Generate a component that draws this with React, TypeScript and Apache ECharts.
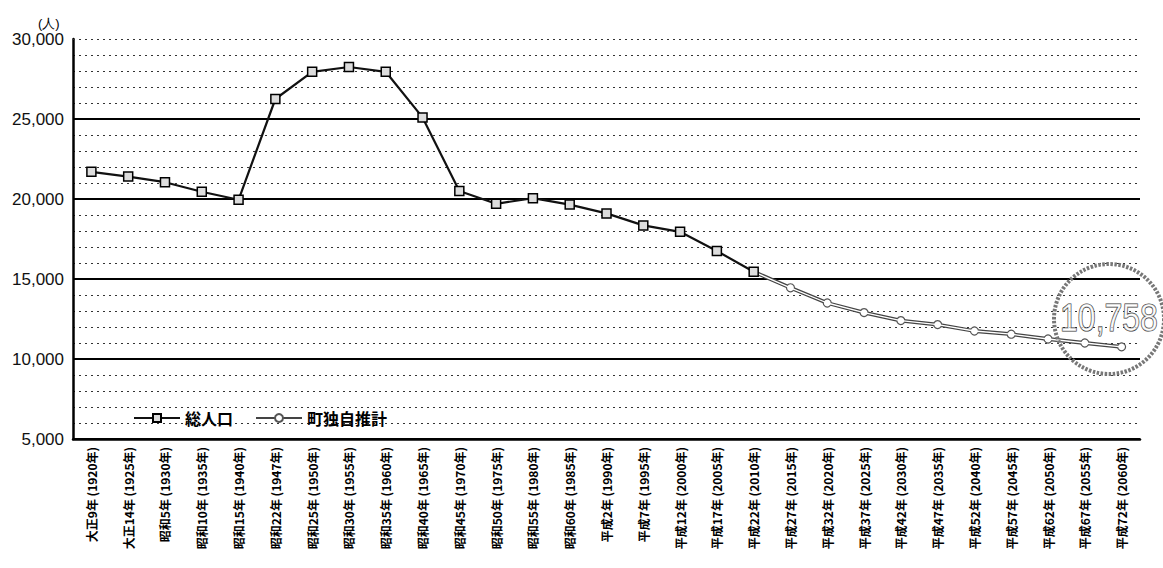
import React, { useEffect, useRef } from "react";
import * as echarts from "echarts";

const categories = [
  "大正9年 (1920年)", "大正14年 (1925年)", "昭和5年 (1930年)", "昭和10年 (1935年)",
  "昭和15年 (1940年)", "昭和22年 (1947年)", "昭和25年 (1950年)", "昭和30年 (1955年)",
  "昭和35年 (1960年)", "昭和40年 (1965年)", "昭和45年 (1970年)", "昭和50年 (1975年)",
  "昭和55年 (1980年)", "昭和60年 (1985年)", "平成2年 (1990年)", "平成7年 (1995年)",
  "平成12年 (2000年)", "平成17年 (2005年)", "平成22年 (2010年)", "平成27年 (2015年)",
  "平成32年 (2020年)", "平成37年 (2025年)", "平成42年 (2030年)", "平成47年 (2035年)",
  "平成52年 (2040年)", "平成57年 (2045年)", "平成62年 (2050年)", "平成67年 (2055年)",
  "平成72年 (2060年)",
];

const totalPopulation = [
  21700, 21400, 21050, 20450, 19950, 26250, 27950, 28250, 27950, 25100,
  20500, 19700, 20050, 19650, 19100, 18350, 17950, 16750, 15450,
  null, null, null, null, null, null, null, null, null, null,
];

const townEstimate = [
  null, null, null, null, null, null, null, null, null, null,
  null, null, null, null, null, null, null, null,
  15450, 14450, 13500, 12900, 12400, 12150, 11750, 11550, 11250, 11000, 10758,
];

const yTicks = { min: 5000, max: 30000, interval: 5000 };
const stampValue = "10,758";
const unitLabel = "(人)";

export default function App() {
  const ref = useRef<HTMLDivElement>(null);
  useEffect(() => {
    if (!ref.current) return;
    const chart = echarts.init(ref.current, null, { renderer: "svg" });
    const dotted = { color: "#333", width: 1.1, type: [2, 4] as any };
    chart.setOption({
      animation: false,
      backgroundColor: "#fff",
      grid: { left: 73, right: 23, top: 39, bottom: 129, containLabel: false },
      legend: {
        data: ["総人口", "町独自推計"],
        left: 128,
        top: 405,
        itemWidth: 46,
        itemHeight: 10,
        itemGap: 22,
        textStyle: { fontSize: 16, fontWeight: "bold", color: "#000", fontFamily: "Noto Sans CJK JP" },
      },
      xAxis: {
        type: "category",
        data: categories,
        boundaryGap: true,
        axisTick: { show: false },
        axisLine: { lineStyle: { color: "#000", width: 2.5 } },
        axisLabel: {
          interval: 0,
          rotate: 90,
          margin: 8,
          fontSize: 12,
          fontWeight: "bold",
          color: "#000",
          fontFamily: "Noto Sans CJK JP",
        },
        splitLine: { show: false },
      },
      yAxis: {
        type: "value",
        min: yTicks.min,
        max: yTicks.max,
        interval: yTicks.interval,
        axisLine: { show: true, lineStyle: { color: "#000", width: 2.5 } },
        axisTick: { show: false },
        axisLabel: {
          fontSize: 17,
          color: "#111",
          margin: 9,
          fontFamily: "Liberation Sans",
          formatter: (v: number) => v.toLocaleString("en-US"),
        },
        splitLine: { show: true, showMaxLine: false, lineStyle: { color: "#000", width: 1.8 } },
        minorTick: { show: false, splitNumber: 5 },
        minorSplitLine: { show: true, lineStyle: dotted },
      },
      series: [
        {
          name: "町独自推計",
          type: "line",
          data: townEstimate,
          z: 2,
          symbol: "circle",
          symbolSize: 8,
          showSymbol: true,
          lineStyle: { color: "#444", width: 3.8 },
          itemStyle: { color: "#fff", borderColor: "#555", borderWidth: 1.2 },
        },
        {
          name: "町独自推計_inner",
          type: "line",
          data: townEstimate,
          z: 3,
          symbol: "none",
          silent: true,
          lineStyle: { color: "#fff", width: 1.3 },
        },
        {
          name: "総人口",
          type: "line",
          data: totalPopulation,
          z: 4,
          symbol: "rect",
          symbolSize: 9,
          lineStyle: { color: "#111", width: 2.2 },
          itemStyle: { color: "#ddd", borderColor: "#000", borderWidth: 1.5 },
          markLine: {
            silent: true,
            symbol: ["none", "none"],
            label: { show: false },
            lineStyle: dotted,
            data: [{ yAxis: yTicks.max }],
          },
        },
      ],
      graphic: [
        {
          type: "text",
          left: 38,
          top: 17,
          style: { text: unitLabel, fontSize: 13, fill: "#000", fontFamily: "Liberation Sans" },
        },
        {
          type: "circle",
          shape: { cx: 1109, cy: 319, r: 55 },
          style: { fill: "none", stroke: "#777", lineWidth: 4, lineDash: [2.5, 1.5] },
          z: 10,
        },
        {
          type: "text",
          x: 1109,
          y: 317,
          scaleY: 1.2,
          style: {
            text: stampValue,
            fontSize: 32,
            fontFamily: "Liberation Sans",
            fill: "rgba(255,255,255,0.7)",
            stroke: "#333",
            lineWidth: 1,
            align: "center",
            verticalAlign: "middle",
          },
          z: 11,
        },
      ],
    });
    return () => chart.dispose();
  }, []);
  return (
    <div
      ref={ref}
      style={{ position: "absolute", left: 0, top: 0, width: 1163, height: 568 }}
    />
  );
}
